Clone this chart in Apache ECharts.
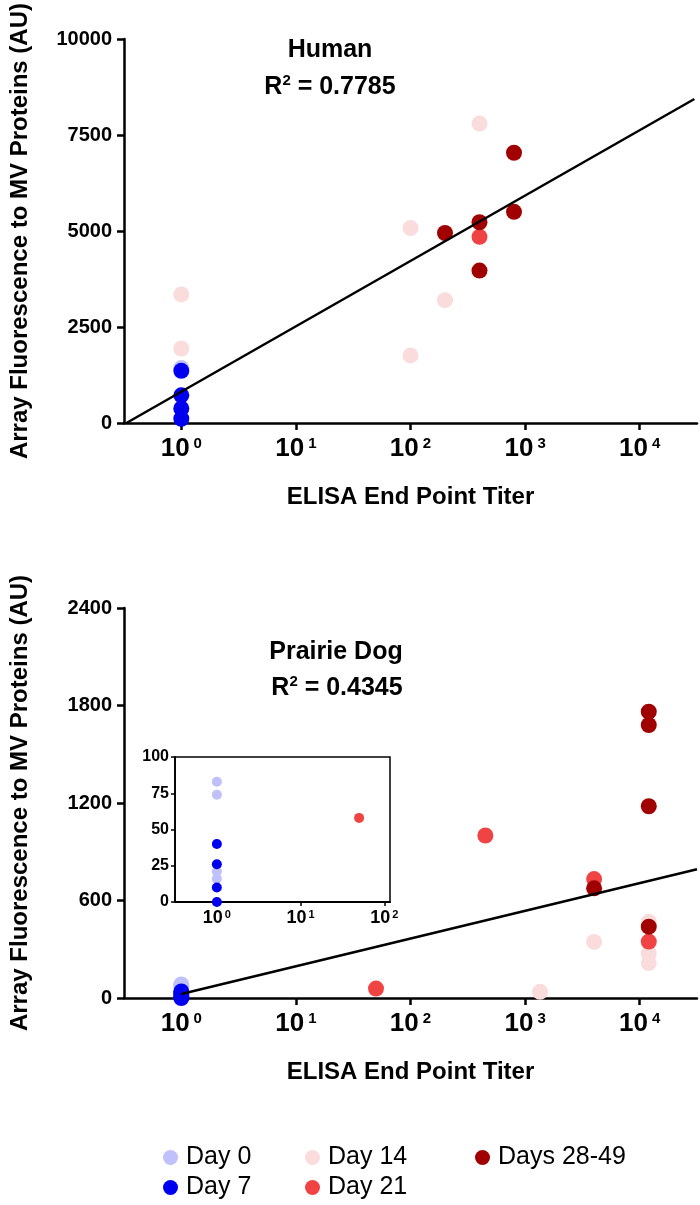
<!DOCTYPE html>
<html><head><meta charset="utf-8">
<script src="https://cdn.jsdelivr.net/npm/echarts@6/dist/echarts.min.js"></script>
<style>html,body{margin:0;padding:0;background:#fff}#c{width:700px;height:1205px}</style>
</head><body><div id="c"></div>
<script>
// ---------- data ----------
const groupNames = ['Day 0', 'Day 7', 'Day 14', 'Day 21', 'Days 28-49'];
const groupColors = ['#c0c0fa', '#0000f0', '#fadcdc', '#f04444', '#a00000'];

// Human: [ELISA titer, array fluorescence]
const humanDay0 = [[1, 1430]];
const humanDay7 = [[1, 1360], [1, 720], [1, 380], [1, 110]];
const humanDay14 = [[1, 3350], [1, 1940], [100, 5080], [100, 1760], [200, 3200], [400, 7800]];
const humanDay21 = [[400, 4850]];
const humanDay28to49 = [[200, 4950], [400, 5230], [400, 3970], [800, 7040], [800, 5500]];
const humanFitLine = [[0.332, 0], [30000, 8440]];
const humanTitle = 'Human';
const humanR2 = '0.7785';

// Prairie dog
const dogDay0 = [[1, 83], [1, 74], [1, 21], [1, 16]];
const dogDay7 = [[1, 40], [1, 26], [1, 10], [1, 0]];
const dogDay14 = [[4000, 345], [1350, 38], [12000, 470], [12000, 273], [12000, 215]];
const dogDay21 = [[50, 58], [450, 1000], [4000, 732], [12000, 347]];
const dogDay28to49 = [[12000, 1762], [12000, 1680], [12000, 1180], [4000, 675], [12000, 439]];
const dogFitLine = [[1, 25], [31623, 792]];
const dogTitle = 'Prairie Dog';
const dogR2 = '0.4345';

// axes
const xTickValues = [1, 10, 100, 1000, 10000];
const insetXTickValues = [1, 10, 100];
const humanY = {min: 0, max: 10000, interval: 2500};
const dogY = {min: 0, max: 2400, interval: 600};
const insetY = {min: 0, max: 100, interval: 25};
const mainXRange = [Math.pow(10, -0.5), Math.pow(10, 4.5)];
const insetXRange = [Math.pow(10, -0.5), 117];
const xAxisTitle = 'ELISA End Point Titer';
const yAxisTitle = 'Array Fluorescence to MV Proteins (AU)';

// ---------- chart ----------
const FONT = '"Liberation Sans", Arial, sans-serif';
const chart = echarts.init(document.getElementById('c'), null, {renderer: 'canvas'});

function xAxisCfg(gridIndex, range, ticks, big, showName) {
  return {
    type: 'log', logBase: 10, gridIndex: gridIndex, min: range[0], max: range[1],
    name: showName ? xAxisTitle : '', nameLocation: 'middle', nameGap: 62,
    nameTextStyle: {fontFamily: FONT, fontWeight: 'bold', fontSize: 24, color: '#000'},
    axisLine: {show: true, onZero: false, lineStyle: {color: '#000', width: big ? 2.5 : 1.8}},
    axisTick: {show: true, customValues: ticks, length: big ? 7 : 4, lineStyle: {color: '#000', width: big ? 2.5 : 1.5}},
    axisLabel: {
      customValues: ticks, margin: big ? 13 : 7, color: '#000',
      formatter: v => '{b|10}{s|' + Math.round(Math.log10(v)) + '}',
      rich: {
        b: {fontFamily: FONT, fontWeight: 'bold', fontSize: big ? 26 : 18, color: '#000', lineHeight: big ? 26 : 18},
        s: {fontFamily: FONT, fontWeight: 'bold', fontSize: big ? 15 : 11, color: '#000', verticalAlign: 'top', padding: [0, 0, 0, big ? 4 : 2], lineHeight: big ? 26 : 18}
      }
    },
    splitLine: {show: false}, minorTick: {show: false}
  };
}
function yAxisCfg(gridIndex, cfg, big, showName) {
  return {
    type: 'value', gridIndex: gridIndex, min: cfg.min, max: cfg.max, interval: cfg.interval,
    name: showName ? yAxisTitle : '', nameLocation: 'middle', nameGap: 92, nameRotate: 90,
    nameTextStyle: {fontFamily: FONT, fontWeight: 'bold', fontSize: 24, color: '#000'},
    axisLine: {show: true, onZero: false, lineStyle: {color: '#000', width: big ? 2.5 : 1.8}},
    axisTick: {show: true, length: big ? 7 : 4, lineStyle: {color: '#000', width: big ? 2.5 : 1.5}},
    axisLabel: {margin: big ? 12 : 6, fontFamily: FONT, fontWeight: 'bold', fontSize: big ? 20 : 16, color: '#000',
      formatter: v => String(v)},
    splitLine: {show: false}
  };
}
function scatter(name, data, axisIdx, size, z) {
  const i = groupNames.indexOf(name);
  return {type: 'scatter', name: name, data: data, xAxisIndex: axisIdx, yAxisIndex: axisIdx,
    symbol: 'circle', symbolSize: size, itemStyle: {color: groupColors[i], opacity: 1}, z: z || 3,
    emphasis: {disabled: true}};
}
function fitLine(data, axisIdx) {
  return {type: 'line', data: data, xAxisIndex: axisIdx, yAxisIndex: axisIdx, symbol: 'none',
    lineStyle: {color: '#000', width: 2.5}, z: 4, silent: true};
}
const inInset = p => p[1] <= insetY.max && p[0] <= insetXRange[1];

const humanGroups = [humanDay0, humanDay7, humanDay14, humanDay21, humanDay28to49];
const dogGroups = [dogDay0, dogDay7, dogDay14, dogDay21, dogDay28to49];

const series = [];
groupNames.forEach((n, i) => series.push(scatter(n, humanGroups[i], 0, 16)));
series.push(fitLine(humanFitLine, 0));
groupNames.forEach((n, i) => series.push(scatter(n, dogGroups[i], 1, 16)));
series.push(fitLine(dogFitLine, 1));
groupNames.forEach((n, i) => {
  const d = dogGroups[i].filter(inInset);
  if (d.length) series.push(scatter(n, d, 2, 10, 12));
});

function r2Text(val, x, y) {
  return {type: 'text', x: x, y: y, z: 20, style: {
    text: '{r|R}{s|2}{r| = ' + val + '}', align: 'center', verticalAlign: 'middle',
    rich: {
      r: {fontFamily: FONT, fontWeight: 'bold', fontSize: 25, fill: '#000', lineHeight: 28},
      s: {fontFamily: FONT, fontWeight: 'bold', fontSize: 15, fill: '#000', verticalAlign: 'top', lineHeight: 28}
    }}};
}
function titleText(t, x, y) {
  return {type: 'text', x: x, y: y, z: 20, style: {text: t, align: 'center', verticalAlign: 'middle',
    font: 'bold 25px ' + FONT, fill: '#000'}};
}

const legendPos = [['Day 0', 158, 1140], ['Day 14', 300, 1140], ['Days 28-49', 470, 1140], ['Day 7', 158, 1170], ['Day 21', 300, 1170]];

chart.setOption({
  animation: false,
  backgroundColor: '#fff',
  grid: [
    {left: 124, top: 34, width: 573, height: 389},
    {left: 124, top: 608, width: 573, height: 390},
    {left: 175, top: 757, width: 215, height: 145, show: true, backgroundColor: '#fff', borderColor: '#000', borderWidth: 1.5, z: 10}
  ],
  xAxis: [xAxisCfg(0, mainXRange, xTickValues, true, true), xAxisCfg(1, mainXRange, xTickValues, true, true),
          Object.assign(xAxisCfg(2, insetXRange, insetXTickValues, false, false), {z: 11})],
  yAxis: [yAxisCfg(0, humanY, true, true), yAxisCfg(1, dogY, true, true),
          Object.assign(yAxisCfg(2, insetY, false, false), {z: 11})],
  series: series,
  legend: legendPos.map(p => ({
    data: [p[0]], left: p[1], top: p[2], orient: 'horizontal', selectedMode: false,
    icon: 'circle', itemWidth: 15, itemHeight: 15, itemGap: 0,
    textStyle: {fontFamily: FONT, fontSize: 25, color: '#000', padding: [0, 0, 0, 3]}
  })),
  graphic: [
    titleText(humanTitle, 330, 50), r2Text(humanR2, 330, 87),
    titleText(dogTitle, 336, 652), r2Text(dogR2, 337, 688)
  ]
});
</script></body></html>
